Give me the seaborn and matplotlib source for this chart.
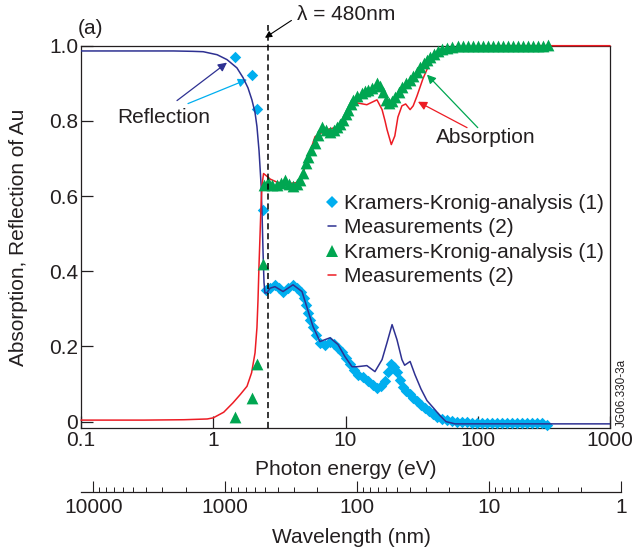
import numpy as np
import matplotlib
matplotlib.use("Agg")
import matplotlib.pyplot as plt
import seaborn as sns
from matplotlib.lines import Line2D
from matplotlib.ticker import FixedLocator, FuncFormatter, LogLocator, NullFormatter, NullLocator

# photon energy (eV) vs reflection / absorption of Au
kk_refl_energy = [1.46, 1.96, 2.14, 2.37,
                  2.50, 2.69, 2.93, 3.14, 3.37, 3.67, 4.01, 4.30, 4.61, 4.86, 5.02, 5.20, 5.39, 5.68,
                  5.98, 6.41, 7.0, 7.64, 8.18, 8.78, 9.41, 10.1, 10.8, 11.6, 12.4, 13.6, 14.8, 16.2,
                  17.3, 18.5, 19.9, 21.0, 22.1, 23.3, 24.5, 25.8, 27.2, 28.6, 30.8, 32.4, 34.7, 37.2,
                  39.9, 42.8, 45.9, 49.2, 53.7, 58.5, 63.8, 69.6, 75.9, 82.8, 90.3, 98.5, 107.4, 117.2,
                  127.8, 139.4, 152, 165.8, 180.9, 197.3, 215.2, 234.7, 256, 279.2, 304.5, 332]
kk_refl = [0.971, 0.923, 0.832, 0.564,
           0.351, 0.356, 0.364, 0.356, 0.346, 0.356, 0.364, 0.356, 0.346, 0.330, 0.311, 0.290, 0.271, 0.253,
           0.231, 0.210, 0.205, 0.213, 0.207, 0.197, 0.184, 0.170, 0.152, 0.136, 0.125, 0.120, 0.109, 0.098,
           0.090, 0.096, 0.109, 0.133, 0.154, 0.144, 0.133, 0.112, 0.093, 0.082, 0.074, 0.064, 0.056, 0.045,
           0.035, 0.027, 0.019, 0.013, 0.008, 0.003, 0.001, 0.0, -0.002, -0.002, -0.003, -0.004, -0.004, -0.005,
           -0.005, -0.005, -0.005, -0.005, -0.005, -0.005, -0.005, -0.005, -0.005, -0.005, -0.005, -0.010]

meas_refl_energy = [0.1, 0.3, 0.5, 0.7, 0.84, 1.07, 1.27, 1.51, 1.68, 1.83, 1.96, 2.07, 2.14, 2.22, 2.30,
                    2.34, 2.38, 2.42, 2.46, 2.55, 2.69, 2.93, 3.37, 4.01, 4.69, 5.12, 5.68, 6.41, 7.64, 8.78,
                    9.9, 11.2, 12.2, 14.5, 16.7, 18.9, 20.6, 22.5, 24.5, 26.7, 28.0, 30.8, 33.5, 37.2,
                    41.3, 46.6, 51.8, 57.5, 67.3, 1000]
meas_refl = [0.986, 0.986, 0.986, 0.985, 0.984, 0.976, 0.963, 0.941, 0.915, 0.888, 0.856, 0.822, 0.785, 0.72, 0.63,
             0.55, 0.45, 0.37, 0.342, 0.343, 0.355, 0.359, 0.346, 0.364, 0.346, 0.303, 0.253, 0.213, 0.223, 0.205,
             0.173, 0.146, 0.146, 0.149, 0.133, 0.165, 0.21, 0.258, 0.218, 0.165, 0.150, 0.160, 0.125, 0.087,
             0.056, 0.035, 0.016, 0.0, -0.006, -0.006]

kk_abs_energy = [1.46, 1.96, 2.14, 2.37,
                 2.42, 2.60, 2.78, 3.03, 3.25, 3.49, 3.74, 4.01, 4.30, 4.53, 4.77, 5.02, 5.20, 5.48,
                 5.88, 6.19, 6.64, 7.12, 7.64, 8.18, 8.63, 9.08, 9.57, 10.1, 10.4, 11.0, 11.4, 12.2,
                 13.3, 14.0, 14.8, 15.9, 17.3, 18.2, 19.2, 20.2, 21.3, 22.5, 23.7, 25.4, 26.7, 28.6,
                 30.8, 32.4, 34.7, 36.5, 39.2, 41.3, 43.5, 46.6, 50.0, 53.7, 58.5, 63.8, 71.0, 77.3,
                 84.3, 91.9, 100.2, 109.3, 119.2, 130, 141.7, 154.5, 168.5, 183.8, 200.4, 218.6, 238.3,
                 259.9, 283.4, 309, 337]
kk_abs = [0.013, 0.064, 0.154, 0.42,
          0.630, 0.638, 0.630, 0.630, 0.636, 0.644, 0.633, 0.628, 0.633, 0.644, 0.662, 0.689, 0.705, 0.723,
          0.742, 0.763, 0.785, 0.777, 0.771, 0.777, 0.785, 0.793, 0.803, 0.819, 0.830, 0.846, 0.856, 0.867,
          0.875, 0.880, 0.883, 0.888, 0.900, 0.894, 0.878, 0.856, 0.848, 0.854, 0.864, 0.878, 0.891, 0.900,
          0.910, 0.920, 0.930, 0.944, 0.955, 0.963, 0.971, 0.979, 0.987, 0.992, 0.995, 0.997, 0.998, 0.999,
          1.0, 1.0, 1.0, 1.0, 1.0, 1.0, 1.0, 1.0, 1.0, 1.0, 1.0, 1.0, 1.0,
          1.0, 1.0, 1.0, 1.002]

meas_abs_energy = [0.1, 0.3, 0.6, 0.9, 1.0, 1.2, 1.41, 1.6, 1.8, 1.95, 2.07, 2.14, 2.18, 2.22, 2.26,
                   2.30, 2.34, 2.40, 2.50, 2.7, 3.03, 3.5, 4.3, 4.77, 5.3, 5.88, 7.24, 9.08, 10.2, 12.2,
                   14.5, 17.3, 18.9, 19.9, 20.6, 22.2, 23.6, 24.9, 26.7, 28.5, 30.8, 32.5, 34.7, 38.5,
                   43.5, 45.9, 52, 58.5, 77.3, 120, 1000]
meas_abs = [0.004, 0.004, 0.005, 0.007, 0.01, 0.025, 0.05, 0.072, 0.094, 0.13, 0.183, 0.25, 0.324, 0.42, 0.5,
            0.58, 0.63, 0.66, 0.655, 0.645, 0.637, 0.632, 0.636, 0.66, 0.71, 0.758, 0.777, 0.785, 0.822, 0.848,
            0.843, 0.856, 0.83, 0.80, 0.777, 0.737, 0.76, 0.81, 0.84, 0.845, 0.83, 0.84, 0.866, 0.912,
            0.955, 0.963, 0.975, 0.984, 0.995, 1.0, 1.0]

energy_ticks = [0.1, 1, 10, 100, 1000]
wavelength_ticks = [10000, 1000, 100, 10, 1]
refl_ticks = [0, 0.2, 0.4, 0.6, 0.8, 1.0]
refl_tick_labels = ["0", "0.2", "0.4", "0.6", "0.8", "1.0"]
marked_wavelength = 480  # nm
hc = 1240.0  # eV nm

C_KK_R = "#00aeef"
C_MEAS_R = "#2e3192"
C_KK_A = "#00a651"
C_MEAS_A = "#ed1c24"
C_TEXT = "#231f20"
FS = 15

sns.set_style("ticks")
plt.rcParams["font.family"] = ["Liberation Sans", "DejaVu Sans"]
plt.rcParams["text.color"] = C_TEXT
plt.rcParams["axes.labelcolor"] = C_TEXT
plt.rcParams["xtick.color"] = C_TEXT
plt.rcParams["ytick.color"] = C_TEXT
plt.rcParams["axes.edgecolor"] = C_TEXT

fig = plt.figure(figsize=(6.34, 5.49), dpi=100)
W, H = 634, 549
ax = fig.add_axes([81 / W, 1 - 428 / H, 529 / W, 382.3 / H])

# markers first, lines on top (green triangles cover the red line at the top)
sns.scatterplot(x=kk_refl_energy, y=kk_refl, marker="D", s=34, color=C_KK_R,
                linewidth=0, ax=ax, clip_on=False, zorder=3)
sns.lineplot(x=meas_refl_energy, y=meas_refl, sort=False, estimator=None,
             color=C_MEAS_R, linewidth=1.1, ax=ax, zorder=4)
sns.lineplot(x=meas_abs_energy, y=meas_abs, sort=False, estimator=None,
             color=C_MEAS_A, linewidth=1.1, ax=ax, zorder=4, clip_on=False)
sns.scatterplot(x=kk_abs_energy, y=kk_abs, marker="^", s=72, color=C_KK_A,
                linewidth=0, ax=ax, clip_on=False, zorder=5)

# lambda = 480 nm marker line
e_mark = hc / marked_wavelength
ax.plot([e_mark, e_mark], [-0.017, 1.056], color="black", linestyle=(0, (4, 2.5)),
        linewidth=1.1, clip_on=False, zorder=6)

ax.set_xscale("log")
ax.set_xlim(0.1, 1000)
ax.set_ylim(-0.017, 1.0)
ax.xaxis.set_major_locator(FixedLocator(energy_ticks))
ax.xaxis.set_minor_locator(NullLocator())
ax.xaxis.set_major_formatter(FuncFormatter(lambda v, p: "%g" % v))
ax.set_yticks(refl_ticks)
ax.set_yticklabels(refl_tick_labels)
ax.tick_params(axis="both", direction="in", length=8.5, width=0.9, labelsize=FS)
ax.tick_params(axis="x", pad=2.5)
ax.tick_params(axis="y", pad=2)
for sp in ax.spines.values():
    sp.set_visible(True)
    sp.set_linewidth(0.9)

ax.set_xlabel("Photon energy (eV)", fontsize=FS, labelpad=7)
ax.set_ylabel("Absorption, Reflection of Au", fontsize=FS)
ax.yaxis.set_label_coords(-0.100, 0.5)

# legend
handles = [
    Line2D([], [], marker="D", linestyle="none", markersize=5.8, color=C_KK_R, markeredgewidth=0),
    Line2D([], [], color=C_MEAS_R, linewidth=1.1),
    Line2D([], [], marker="^", linestyle="none", markersize=8.5, color=C_KK_A, markeredgewidth=0),
    Line2D([], [], color=C_MEAS_A, linewidth=1.1),
]
labels = ["Kramers-Kronig-analysis (1)", "Measurements (2)",
          "Kramers-Kronig-analysis (1)", "Measurements (2)"]
ax.legend(handles, labels, loc="upper left", bbox_to_anchor=(0.466, 0.612), frameon=False,
          fontsize=FS, handlelength=0.4, handletextpad=0.4, labelspacing=0.26,
          borderpad=0, borderaxespad=0)

# annotations
arrow_kw = dict(arrowstyle="-|>", lw=0.9, mutation_scale=13, shrinkA=0, shrinkB=0)
ax.text(0.425, 0.809, "Reflection", fontsize=FS, ha="center", va="center")
ax.annotate("", xy=(1.27, 0.955), xytext=(0.532, 0.854),
            arrowprops=dict(color=C_MEAS_R, **arrow_kw))
ax.annotate("", xy=(1.80, 0.910), xytext=(0.644, 0.846),
            arrowprops=dict(color=C_KK_R, **arrow_kw))
ax.text(115, 0.755, "Absorption", fontsize=FS, ha="center", va="center")
ax.annotate("", xy=(35.3, 0.851), xytext=(83, 0.782),
            arrowprops=dict(color=C_MEAS_A, **arrow_kw))
ax.annotate("", xy=(41.3, 0.923), xytext=(100, 0.782),
            arrowprops=dict(color=C_KK_A, **arrow_kw))
ax.annotate("\u03bb = 480nm", xy=(2.46, 1.021), xytext=(4.3, 1.082), fontsize=FS,
            ha="left", va="center", annotation_clip=False,
            arrowprops=dict(color="black", arrowstyle="-|>", lw=0.8, mutation_scale=10,
                            shrinkA=2, shrinkB=0, relpos=(0, 0.4)))
ax.text(-0.006, 1.044, "(a)", transform=ax.transAxes, fontsize=FS, ha="left", va="center")
fig.text(622 / W, 1 - 393 / H, "JG06.330-3a", rotation=90, fontsize=8.5,
         ha="center", va="center")

# wavelength axis below
ax2 = fig.add_axes([81 / W, 1 - 492 / H, 540 / W, 0.0001])
ax2.set_xscale("log")
ax2.set_xlim(hc / 0.1, 1)
ax2.xaxis.set_major_locator(FixedLocator(wavelength_ticks))
ax2.xaxis.set_minor_locator(LogLocator(base=10, subs=np.arange(2, 10)))
ax2.xaxis.set_major_formatter(FuncFormatter(lambda v, p: "%g" % v))
ax2.xaxis.set_minor_formatter(NullFormatter())
ax2.set_yticks([])
for name in ["top", "left", "right"]:
    ax2.spines[name].set_visible(False)
ax2.spines["bottom"].set_linewidth(0.9)
ax2.patch.set_visible(False)
ax2.tick_params(axis="x", which="major", direction="in", length=8, width=0.8, labelsize=FS, pad=4.5)
ax2.tick_params(axis="x", which="minor", direction="in", length=3.6, width=0.7)
ax2.set_xlabel("Wavelength (nm)", fontsize=FS, labelpad=8)

fig.savefig("out.png", dpi=100)
